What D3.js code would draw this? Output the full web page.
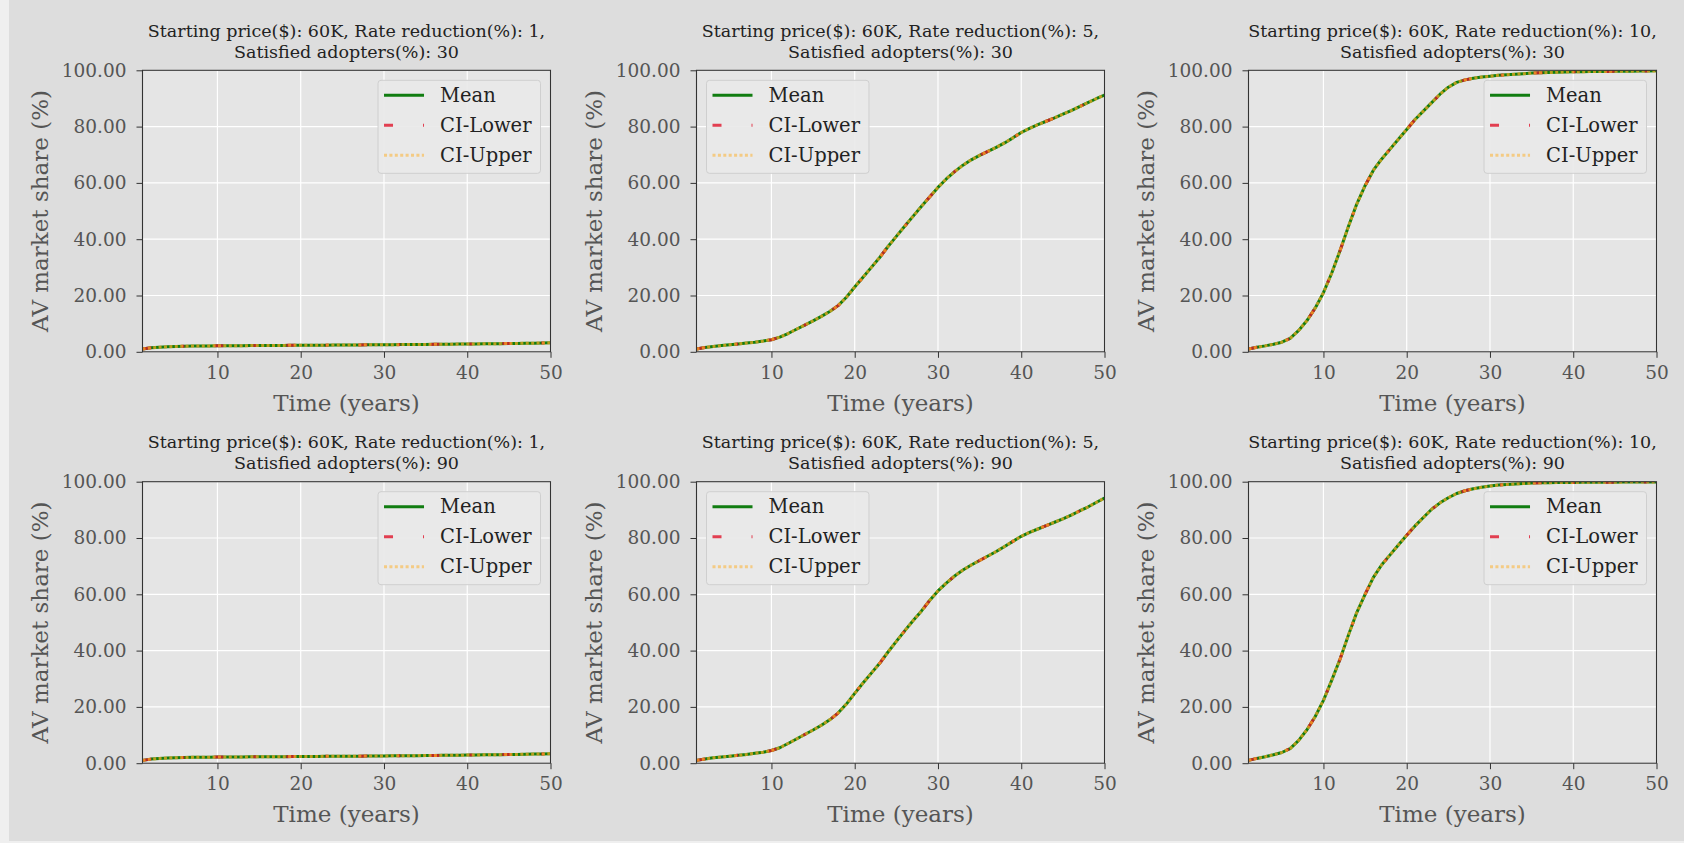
<!DOCTYPE html>
<html>
<head>
<meta charset="utf-8">
<script src="https://cdn.jsdelivr.net/npm/d3@7"></script>
<style>
  html, body { margin: 0; padding: 0; background: #efefef; }
  svg { display: block; }
  text { font-family: "DejaVu Serif", serif; }
</style>
</head>
<body>
<svg id="chart" width="1684" height="843"></svg>
<script>
// ---------------- DATA ----------------
const years = d3.range(1, 51); // Time (years) 1..50

const xTicks = [10, 20, 30, 40, 50];
const yTicks = [0, 20, 40, 60, 80, 100];

const startingPrice = "60K";
const rateReductions = [1, 5, 10];
const satisfiedAdopters = [30, 90];

const seriesNames = ["Mean", "CI-Lower", "CI-Upper"];

// Mean AV market share (%), per year 1..50
const meanR1S30 = [1.0, 1.4, 1.65, 1.8, 1.9, 1.97, 2.02, 2.06, 2.1, 2.12,
  2.14, 2.16, 2.18, 2.2, 2.22, 2.24, 2.26, 2.28, 2.3, 2.32,
  2.33, 2.35, 2.37, 2.39, 2.41, 2.43, 2.45, 2.47, 2.49, 2.51,
  2.53, 2.55, 2.57, 2.6, 2.62, 2.65, 2.68, 2.7, 2.73, 2.76,
  2.8, 2.83, 2.86, 2.9, 2.94, 2.98, 3.02, 3.07, 3.12, 3.18];

const meanR5S30 = [1.0, 1.5, 1.9, 2.2, 2.5, 2.8, 3.1, 3.4, 3.8, 4.3,
  5.2, 6.5, 8.0, 9.5, 11.0, 12.6, 14.3, 16.4, 19.4, 23.0,
  26.5, 30.0, 33.5, 37.4, 41.0, 44.6, 48.1, 51.6, 55.0, 58.4,
  61.4, 64.0, 66.3, 68.2, 69.8, 71.2, 72.6, 74.2, 76.0, 77.9,
  79.4, 80.7, 81.9, 83.1, 84.4, 85.7, 87.1, 88.5, 89.9, 91.2];

const meanR10S30 = [1.0, 1.6, 2.1, 2.7, 3.4, 4.8, 7.5, 11.0, 15.5, 21.0,
  28.0, 36.0, 44.5, 52.5, 59.0, 64.5, 68.5, 72.0, 75.5, 79.0,
  82.5, 85.5, 88.5, 91.5, 94.0, 95.7, 96.6, 97.2, 97.6, 97.9,
  98.2, 98.4, 98.6, 98.8, 99.0, 99.1, 99.2, 99.3, 99.4, 99.5,
  99.5, 99.55, 99.6, 99.6, 99.65, 99.7, 99.7, 99.75, 99.75, 99.8];

const meanR1S90 = [1.0, 1.45, 1.7, 1.85, 1.95, 2.02, 2.07, 2.11, 2.14, 2.17,
  2.19, 2.21, 2.23, 2.25, 2.27, 2.29, 2.31, 2.33, 2.35, 2.37,
  2.39, 2.41, 2.43, 2.45, 2.47, 2.49, 2.51, 2.53, 2.56, 2.58,
  2.61, 2.63, 2.66, 2.69, 2.72, 2.75, 2.78, 2.81, 2.84, 2.88,
  2.92, 2.96, 3.0, 3.04, 3.08, 3.13, 3.18, 3.23, 3.28, 3.34];

const meanR5S90 = [1.0, 1.5, 1.9, 2.2, 2.5, 2.8, 3.1, 3.5, 3.9, 4.5,
  5.5, 7.0, 8.6, 10.2, 11.8, 13.5, 15.4, 17.8, 21.0, 24.8,
  28.5, 32.0, 35.5, 39.5, 43.3, 47.0, 50.6, 54.0, 57.8, 61.2,
  64.0, 66.5, 68.6, 70.4, 72.0, 73.6, 75.2, 77.0, 78.8, 80.6,
  82.0, 83.2, 84.4, 85.6, 86.8, 88.1, 89.6, 91.0, 92.6, 94.2];

const meanR10S90 = [1.0, 1.7, 2.3, 3.0, 3.8, 5.2, 8.0, 11.8, 16.5, 22.3,
  29.5, 37.0, 45.5, 53.5, 60.0, 66.0, 70.5, 74.0, 77.5, 81.0,
  84.3, 87.3, 90.2, 92.5, 94.3, 95.8, 96.8, 97.5, 98.0, 98.5,
  98.8, 99.0, 99.2, 99.35, 99.5, 99.6, 99.65, 99.7, 99.72, 99.75,
  99.78, 99.8, 99.8, 99.82, 99.84, 99.85, 99.86, 99.87, 99.88, 99.9];

// The confidence bounds coincide with the mean at the picture's resolution
const ciLowerR1S30 = meanR1S30,  ciUpperR1S30 = meanR1S30;
const ciLowerR5S30 = meanR5S30,  ciUpperR5S30 = meanR5S30;
const ciLowerR10S30 = meanR10S30, ciUpperR10S30 = meanR10S30;
const ciLowerR1S90 = meanR1S90,  ciUpperR1S90 = meanR1S90;
const ciLowerR5S90 = meanR5S90,  ciUpperR5S90 = meanR5S90;
const ciLowerR10S90 = meanR10S90, ciUpperR10S90 = meanR10S90;

// ---------------- PANELS ----------------
const panels = [
  { row: 0, col: 0, rate: 1,  sat: 30, legend: "right", mean: meanR1S30,  lower: ciLowerR1S30,  upper: ciUpperR1S30 },
  { row: 0, col: 1, rate: 5,  sat: 30, legend: "left",  mean: meanR5S30,  lower: ciLowerR5S30,  upper: ciUpperR5S30 },
  { row: 0, col: 2, rate: 10, sat: 30, legend: "right", mean: meanR10S30, lower: ciLowerR10S30, upper: ciUpperR10S30 },
  { row: 1, col: 0, rate: 1,  sat: 90, legend: "right", mean: meanR1S90,  lower: ciLowerR1S90,  upper: ciUpperR1S90 },
  { row: 1, col: 1, rate: 5,  sat: 90, legend: "left",  mean: meanR5S90,  lower: ciLowerR5S90,  upper: ciUpperR5S90 },
  { row: 1, col: 2, rate: 10, sat: 90, legend: "right", mean: meanR10S90, lower: ciLowerR10S90, upper: ciUpperR10S90 },
];

// ---------------- LAYOUT / STYLE ----------------
const colLeft = [142.5, 696.5, 1248.5];
const plotW = 408;
const rowTop = [70.3, 481.7];
const plotH = 281.5;

const styles = {
  "Mean":     { color: "#117d11", width: 3,   dash: null,         opacity: 1 },
  "CI-Lower": { color: "#e0142a", width: 3,   dash: "9,30,3,30",  opacity: 0.8 },
  "CI-Upper": { color: "#ffad20", width: 3,   dash: "3,2.4",      opacity: 0.7 },
};

const svg = d3.select("#chart");
svg.append("rect").attr("x", 9).attr("y", 0).attr("width", 1684 - 9).attr("height", 841)
  .attr("fill", "#dddddd");

const defs = svg.append("defs");

panels.forEach((p, i) => {
  const x0 = colLeft[p.col], y0 = rowTop[p.row];
  const x = d3.scaleLinear().domain([1, 50]).range([x0, x0 + plotW]);
  const y = d3.scaleLinear().domain([0, 100]).range([y0 + plotH, y0]);
  const g = svg.append("g");

  // plot background
  g.append("rect").attr("x", x0).attr("y", y0).attr("width", plotW).attr("height", plotH)
    .attr("fill", "#e5e5e5");

  // grid
  g.append("g").selectAll("line").data(xTicks).join("line")
    .attr("x1", d => x(d)).attr("x2", d => x(d)).attr("y1", y0).attr("y2", y0 + plotH)
    .attr("stroke", "#ffffff").attr("stroke-width", 1.2);
  g.append("g").selectAll("line").data(yTicks).join("line")
    .attr("x1", x0).attr("x2", x0 + plotW).attr("y1", d => y(d)).attr("y2", d => y(d))
    .attr("stroke", "#ffffff").attr("stroke-width", 1.2);

  // clip
  const cid = "clip" + i;
  defs.append("clipPath").attr("id", cid).append("rect")
    .attr("x", x0).attr("y", y0).attr("width", plotW).attr("height", plotH);

  // lines
  const line = d3.line().x((d, j) => x(years[j])).y(d => y(d));
  const seriesData = { "Mean": p.mean, "CI-Lower": p.lower, "CI-Upper": p.upper };
  const lg = g.append("g").attr("clip-path", `url(#${cid})`);
  seriesNames.forEach(name => {
    const s = styles[name];
    lg.append("path").datum(seriesData[name]).attr("d", line)
      .attr("fill", "none").attr("stroke", s.color).attr("stroke-width", s.width)
      .attr("stroke-opacity", s.opacity)
      .attr("stroke-dasharray", s.dash)
      .attr("stroke-linejoin", "round");
  });

  // axes
  const xAxis = d3.axisBottom(x).tickValues(xTicks).tickSize(6).tickSizeOuter(0).tickPadding(8)
    .tickFormat(d3.format("d"));
  const yAxis = d3.axisLeft(y).tickValues(yTicks).tickSize(6).tickSizeOuter(0).tickPadding(10)
    .tickFormat(d3.format(".2f"));
  const gx = g.append("g").attr("transform", `translate(0,${y0 + plotH})`).call(xAxis);
  const gy = g.append("g").attr("transform", `translate(${x0},0)`).call(yAxis);
  [gx, gy].forEach(a => {
    a.select(".domain").remove();
    a.selectAll(".tick line").attr("stroke", "#333").attr("stroke-width", 1);
    a.selectAll(".tick text").attr("fill", "#555").style("font-size", "18.5px")
      .style("font-family", "DejaVu Serif");
  });

  // frame (spines)
  g.append("rect").attr("x", x0).attr("y", y0).attr("width", plotW).attr("height", plotH)
    .attr("fill", "none").attr("stroke", "#333").attr("stroke-width", 1.1);

  // axis labels
  g.append("text").attr("x", x0 + plotW / 2).attr("y", y0 + plotH + 51)
    .attr("text-anchor", "middle").attr("dominant-baseline", "central")
    .attr("fill", "#555").style("font-size", "23px").text("Time (years)");
  g.append("text")
    .attr("transform", `translate(${x0 - 103},${y0 + plotH / 2}) rotate(-90)`)
    .attr("text-anchor", "middle").attr("dominant-baseline", "central")
    .attr("fill", "#555").style("font-size", "23px").text("AV market share (%)");

  // title
  const t = g.append("text").attr("text-anchor", "middle").attr("fill", "#222")
    .style("font-size", "17.5px");
  t.append("tspan").attr("x", x0 + plotW / 2).attr("y", y0 - 33.6)
    .text(`Starting price($): ${startingPrice}, Rate reduction(%): ${p.rate},`);
  t.append("tspan").attr("x", x0 + plotW / 2).attr("y", y0 - 12.6)
    .text(`Satisfied adopters(%): ${p.sat}`);

  // legend
  const leg = g.append("g");
  const box = leg.append("rect").attr("rx", 3).attr("ry", 3)
    .attr("fill", "#e9e9e9").attr("fill-opacity", 0.9)
    .attr("stroke", "#cfcfcf").attr("stroke-width", 1);
  const items = leg.selectAll("g.item").data(seriesNames).join("g").attr("class", "item")
    .attr("transform", (d, k) => `translate(0,${15 + k * 30})`);
  items.append("line").attr("x1", 6).attr("x2", 46).attr("y1", 0).attr("y2", 0)
    .attr("stroke", d => styles[d].color).attr("stroke-width", d => styles[d].width)
    .attr("stroke-opacity", d => d === "CI-Upper" ? 0.5 : styles[d].opacity)
    .attr("stroke-dasharray", d => styles[d].dash);
  const texts = items.append("text").attr("x", 62).attr("y", 0)
    .attr("dominant-baseline", "central").attr("fill", "#222").style("font-size", "19.5px")
    .text(d => d);
  let tw = 0;
  texts.each(function () { tw = Math.max(tw, this.getComputedTextLength()); });
  const bw = 62 + tw + 9, bh = 93;
  box.attr("x", 0).attr("y", 0).attr("width", bw).attr("height", bh);
  const lx = p.legend === "left" ? x0 + 10 : x0 + plotW - 10 - bw;
  leg.attr("transform", `translate(${lx},${y0 + 10})`);
});
</script>
</body>
</html>
